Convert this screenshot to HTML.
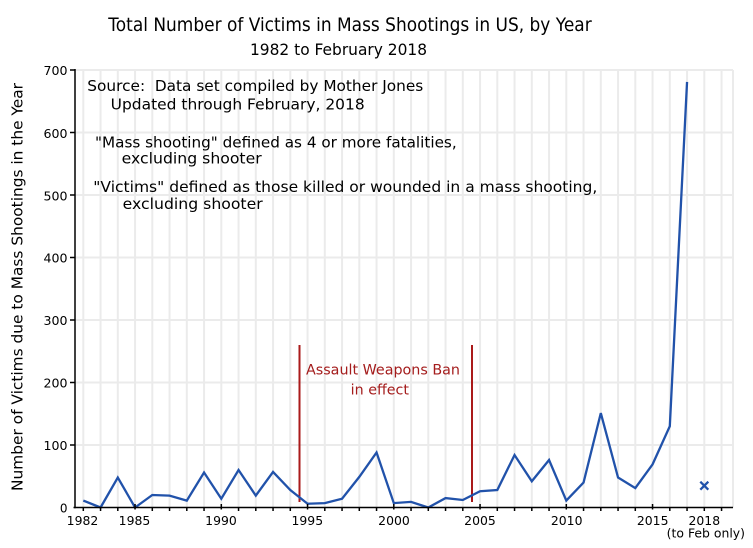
<!DOCTYPE html>
<html>
<head>
<meta charset="utf-8">
<style>
html,body{margin:0;padding:0;background:#fff;}
svg{display:block;}
text{font-family:"DejaVu Sans","Liberation Sans",sans-serif;white-space:pre;}
</style>
</head>
<body>
<svg width="753" height="548" viewBox="0 0 753 548" xmlns="http://www.w3.org/2000/svg">
<rect width="753" height="548" fill="#fff"/>
<!-- gridlines -->
<g stroke="#ebebeb" stroke-width="2" fill="none">
<path d="M83.3 70V507.5M100.55 70V507.5M117.8 70V507.5M135.05 70V507.5M152.3 70V507.5M169.55 70V507.5M186.8 70V507.5M204.05 70V507.5M221.3 70V507.5M238.55 70V507.5M255.8 70V507.5M273.05 70V507.5M290.3 70V507.5M307.55 70V507.5M324.8 70V507.5M342.05 70V507.5M359.3 70V507.5M376.55 70V507.5M393.8 70V507.5M411.05 70V507.5M428.3 70V507.5M445.55 70V507.5M462.8 70V507.5M480.05 70V507.5M497.3 70V507.5M514.55 70V507.5M531.8 70V507.5M549.05 70V507.5M566.3 70V507.5M583.55 70V507.5M600.8 70V507.5M618.05 70V507.5M635.3 70V507.5M652.55 70V507.5M669.8 70V507.5M687.05 70V507.5M704.3 70V507.5M721.55 70V507.5M733 70V507.5"/>
<path d="M75 445H733M75 382.5H733M75 320H733M75 257.5H733M75 195H733M75 132.5H733M75 70H733"/>
</g>

<!-- annotation text -->
<g fill="#000" font-size="15">
<text x="87.3" y="91" textLength="336" lengthAdjust="spacingAndGlyphs">Source:  Data set compiled by Mother Jones</text>
<text x="110.7" y="109.5" textLength="254" lengthAdjust="spacingAndGlyphs">Updated through February, 2018</text>
<text x="95" y="147.5" textLength="361.7" lengthAdjust="spacingAndGlyphs">"Mass shooting" defined as 4 or more fatalities,</text>
<text x="121.7" y="163.5" textLength="140" lengthAdjust="spacingAndGlyphs">excluding shooter</text>
<text x="93.3" y="192" textLength="504" lengthAdjust="spacingAndGlyphs">"Victims" defined as those killed or wounded in a mass shooting,</text>
<text x="122.7" y="209" textLength="140" lengthAdjust="spacingAndGlyphs">excluding shooter</text>
</g>

<!-- assault weapons ban -->
<g stroke="#aa1a1a" stroke-width="2">
<path d="M299.5 345V502M472 345V502"/>
</g>
<g fill="#a41c1c" font-size="14">
<text x="306" y="374.3" textLength="154" lengthAdjust="spacingAndGlyphs">Assault Weapons Ban</text>
<text x="350.7" y="394.3" textLength="58.3" lengthAdjust="spacingAndGlyphs">in effect</text>
</g>

<!-- data line -->
<polyline fill="none" stroke="#2152aa" stroke-width="2.3" stroke-linejoin="miter" points="83.3,500.6 100.55,507.5 117.8,477.5 135.05,507.5 152.3,495 169.55,495.6 186.8,500.6 204.05,472.5 221.3,498.75 238.55,470 255.8,495.6 273.05,471.9 290.3,490 307.55,503.75 324.8,503.1 342.05,498.75 359.3,476.9 376.55,452.5 393.8,503.1 411.05,501.9 428.3,507.5 445.55,498.1 462.8,500 480.05,491.25 497.3,490 514.55,455 531.8,481.25 549.05,460 566.3,500.6 583.55,482.5 600.8,413.1 618.05,477.5 635.3,488.1 652.55,464.4 669.8,426.25 687.05,81.9"/>
<!-- 2018 marker -->
<path d="M700.3 481.7L708.3 489.7M708.3 481.7L700.3 489.7" stroke="#2152aa" stroke-width="2.3"/>

<!-- axes -->
<g stroke="#000" stroke-width="1.5" fill="none">
<path d="M75 69V508.2"/>
<path d="M73.5 507.5H733"/>
<path d="M70 445H75M70 382.5H75M70 320H75M70 257.5H75M70 195H75M70 132.5H75M70 70H75"/>
<path d="M83.3 507.5v3.5M100.55 507.5v3.5M117.8 507.5v3.5M152.3 507.5v3.5M169.55 507.5v3.5M186.8 507.5v3.5M204.05 507.5v3.5M238.55 507.5v3.5M255.8 507.5v3.5M273.05 507.5v3.5M290.3 507.5v3.5M324.8 507.5v3.5M342.05 507.5v3.5M359.3 507.5v3.5M376.55 507.5v3.5M411.05 507.5v3.5M428.3 507.5v3.5M445.55 507.5v3.5M462.8 507.5v3.5M497.3 507.5v3.5M514.55 507.5v3.5M531.8 507.5v3.5M549.05 507.5v3.5M583.55 507.5v3.5M600.8 507.5v3.5M618.05 507.5v3.5M635.3 507.5v3.5M669.8 507.5v3.5M687.05 507.5v3.5M704.3 507.5v3.5M721.55 507.5v3.5"/>
<path d="M135.05 504v5.5M221.3 504v5.5M307.55 504v5.5M393.8 504v5.5M480.05 504v5.5M566.3 504v5.5M652.55 504v5.5"/>
</g>

<!-- y tick labels -->
<g fill="#000" font-size="12" text-anchor="end">
<text x="67.5" y="512.5">0</text>
<text x="67.5" y="450" textLength="24" lengthAdjust="spacingAndGlyphs">100</text>
<text x="67.5" y="387.5" textLength="24" lengthAdjust="spacingAndGlyphs">200</text>
<text x="67.5" y="325" textLength="24" lengthAdjust="spacingAndGlyphs">300</text>
<text x="67.5" y="262.5" textLength="24" lengthAdjust="spacingAndGlyphs">400</text>
<text x="67.5" y="200.5" textLength="24" lengthAdjust="spacingAndGlyphs">500</text>
<text x="67.5" y="138" textLength="24" lengthAdjust="spacingAndGlyphs">600</text>
<text x="67.5" y="75" textLength="24" lengthAdjust="spacingAndGlyphs">700</text>
</g>

<!-- x tick labels -->
<g fill="#000" font-size="12" text-anchor="middle">
<text x="82.5" y="525" textLength="31.6" lengthAdjust="spacingAndGlyphs">1982</text>
<text x="134.5" y="525" textLength="31.6" lengthAdjust="spacingAndGlyphs">1985</text>
<text x="221" y="525" textLength="31.6" lengthAdjust="spacingAndGlyphs">1990</text>
<text x="307.3" y="525" textLength="31.6" lengthAdjust="spacingAndGlyphs">1995</text>
<text x="394" y="525" textLength="31.6" lengthAdjust="spacingAndGlyphs">2000</text>
<text x="480" y="525" textLength="31.6" lengthAdjust="spacingAndGlyphs">2005</text>
<text x="566.7" y="525" textLength="31.6" lengthAdjust="spacingAndGlyphs">2010</text>
<text x="652.7" y="525" textLength="31.6" lengthAdjust="spacingAndGlyphs">2015</text>
<text x="704.3" y="525" textLength="31.6" lengthAdjust="spacingAndGlyphs">2018</text>
</g>
<text x="666.7" y="537.5" font-size="12" fill="#000" textLength="78.3" lengthAdjust="spacingAndGlyphs">(to Feb only)</text>

<!-- y axis label -->
<text transform="translate(22.5,287) rotate(-90)" text-anchor="middle" font-size="15" fill="#000" textLength="408" lengthAdjust="spacingAndGlyphs">Number of Victims due to Mass Shootings in the Year</text>

<!-- titles -->
<text x="108.3" y="31" font-size="19" fill="#000" textLength="483.4" lengthAdjust="spacingAndGlyphs">Total Number of Victims in Mass Shootings in US, by Year</text>
<text x="250" y="55" font-size="16" fill="#000" textLength="177" lengthAdjust="spacingAndGlyphs">1982 to February 2018</text>
</svg>
</body>
</html>
